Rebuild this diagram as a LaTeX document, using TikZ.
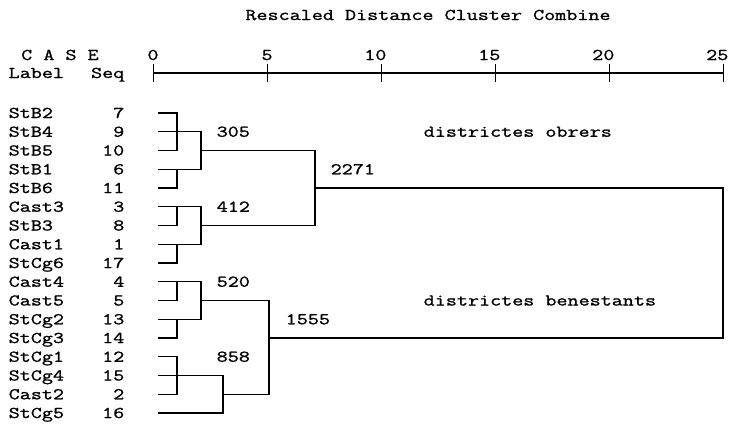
\documentclass[tikz,border=0pt]{standalone}
\usepackage{fontspec}
\newfontfamily\cour[FakeStretch=1.31,FakeBold=1.2]{Latin Modern Mono}
\begin{document}
\begin{tikzpicture}[x=1pt,y=-1pt,
  txt/.style={inner sep=0pt, font=\cour\fontsize{16.4}{18}\selectfont},
  tree/.style={line width=1.3pt, line cap=rect},
  axisline/.style={line width=1.3pt}]
\useasboundingbox[fill=white] (0,0) rectangle (731,431);
% header
\node[txt, anchor=base] (title) at (428,20) {Rescaled Distance Cluster Combine};
\node[txt, anchor=base west] (case) at (21,60) {C A S E};
\node[txt, anchor=base west] (label) at (8.5,78) {Label};
\node[txt, anchor=base east] (seq) at (124.5,78) {Seq};
% axis
\coordinate (a0) at (153,73);
\coordinate (a25) at (723,73);
\draw[axisline] (a0) -- (a25);
\foreach \k in {0,...,5}{
  \coordinate (t\k) at (153+\k*114,73);
  \draw[line width=1pt] ([yshift=-9pt]t\k) -- ([yshift=9pt]t\k);
}
\node[txt, anchor=base] (n0) at (153,60) {0};
\node[txt, anchor=base] (n5) at (267,60) {5};
\node[txt, anchor=base east] (n10) at (386.6,60) {10};
\node[txt, anchor=base east] (n15) at (500.6,60) {15};
\node[txt, anchor=base east] (n20) at (614.6,60) {20};
\node[txt, anchor=base east] (n25) at (728.6,60) {25};
% rows
\foreach \lab/\sq [count=\i] in {StB2/7,StB4/9,StB5/10,StB1/6,StB6/11,Cast3/3,StB3/8,Cast1/1,StCg6/17,Cast4/4,Cast5/5,StCg2/13,StCg3/14,StCg1/12,StCg4/15,Cast2/2,StCg5/16}{
  \pgfmathsetmacro\yy{113+(\i-1)*18.75}
  \node[txt, anchor=base west] (L\i) at (8.5,\yy+5) {\lab};
  \node[txt, anchor=base east] (S\i) at (124.5,\yy+5) {\sq};
  \coordinate (r\i) at (159,\yy);
}
% merge levels
\coordinate (xa) at (177,0);
\coordinate (xb) at (201,0);
\coordinate (xc) at (223,0);
\coordinate (xd) at (269,0);
\coordinate (xe) at (315,0);
\coordinate (xf) at (723,0);
% tree
\draw[tree] (r1) -- (r1 -| xa) -- (r3 -| xa) -- (r3);
\draw[tree] (r2) -- (r2 -| xb) -- (r4 -| xb) -- (r4);
\draw[tree] (r4 -| xa) -- (r5 -| xa) -- (r5);
\draw[tree] (r3 -| xb) -- (r3 -| xe);
\draw[tree] (r6) -- (r6 -| xb) -- (r8 -| xb) -- (r8);
\draw[tree] (r6 -| xa) -- (r7 -| xa) -- (r7);
\draw[tree] (r8 -| xa) -- (r9 -| xa) -- (r9);
\draw[tree] (r7 -| xb) -- (r7 -| xe);
\draw[tree] (r3 -| xe) -- (r7 -| xe);
\draw[tree] (r5 -| xe) -- (r5 -| xf) -- (r13 -| xf) -- (r13 -| xd);
\draw[tree] (r10) -- (r10 -| xb) -- (r12 -| xb) -- (r12);
\draw[tree] (r10 -| xa) -- (r11 -| xa) -- (r11);
\draw[tree] (r12 -| xa) -- (r13 -| xa) -- (r13);
\draw[tree] (r11 -| xb) -- (r11 -| xd);
\draw[tree] (r14) -- (r14 -| xa) -- (r16 -| xa) -- (r16);
\draw[tree] (r15) -- (r15 -| xc) -- (r17 -| xc) -- (r17);
\draw[tree] (r16 -| xc) -- (r16 -| xd);
\draw[tree] (r11 -| xd) -- (r16 -| xd);
% labels
\node[txt, anchor=base west] (v305) at (216.5,113+18.75+5) {305};
\node[txt, anchor=base west] (v412) at (216.5,113+5*18.75+5) {412};
\node[txt, anchor=base west] (v2271) at (330.5,113+3*18.75+5) {2271};
\node[txt, anchor=base west] (obr) at (423.5,113+18.75+5) {districtes obrers};
\node[txt, anchor=base west] (v520) at (216.5,113+9*18.75+5) {520};
\node[txt, anchor=base west] (v858) at (216.5,113+13*18.75+5) {858};
\node[txt, anchor=base west] (v1555) at (285.5,113+11*18.75+5) {1555};
\node[txt, anchor=base west] (ben) at (423.5,113+10*18.75+5) {districtes benestants};
\end{tikzpicture}
\end{document}
